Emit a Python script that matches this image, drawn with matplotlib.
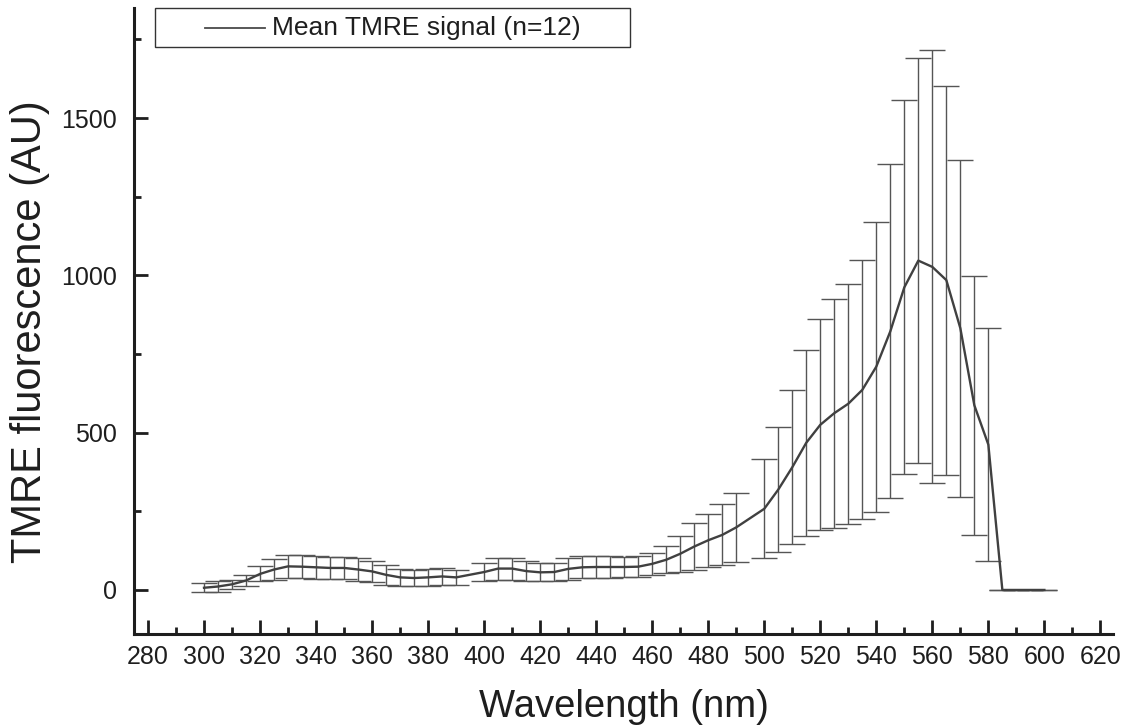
import matplotlib
matplotlib.use("Agg")
import matplotlib.pyplot as plt
from matplotlib.patches import Rectangle
from matplotlib.lines import Line2D
from matplotlib.ticker import MultipleLocator

plt.rcParams['font.family'] = ['Liberation Sans', 'DejaVu Sans']

# Excitation wavelengths (nm)
wavelength = [300, 305, 310, 315, 320, 325, 330, 335, 340, 345, 350, 355, 360,
              365, 370, 375, 380, 385, 390,
              400, 405, 410, 415, 420, 425, 430, 435, 440, 445, 450, 455, 460,
              465, 470, 475, 480, 485, 490,
              500, 505, 510, 515, 520, 525, 530, 535, 540, 545, 550, 555, 560,
              565, 570, 575, 580, 585, 590, 595, 600]

# Mean TMRE fluorescence (AU)
mean_signal = [7, 11, 18, 30, 51, 65, 75, 74, 72, 70, 70, 65, 59,
               48, 40, 38, 40, 43, 40,
               57, 68, 68, 60, 56, 57, 67, 72, 73, 73, 73, 74, 83,
               96, 115, 138, 158, 175, 199,
               258, 319, 390, 468, 525, 562, 592, 636, 710, 822, 962, 1047, 1027,
               985, 832, 587, 462, 0, 0, 0, 0]

# Standard deviation (AU)
sd_signal = [14, 17, 15, 16, 24, 32, 36, 36, 37, 36, 36, 36, 34,
             31, 27, 26, 27, 26, 25,
             29, 35, 35, 31, 29, 29, 35, 35, 34, 34, 33, 33, 36,
             43, 57, 75, 85, 97, 110,
             157, 198, 245, 295, 335, 364, 381, 412, 461, 531, 594, 643, 688,
             618, 535, 411, 370, 0, 0, 0, 0]

legend_label = "Mean TMRE signal (n=12)"

W, H = 1128, 728
fig = plt.figure(figsize=(W / 100, H / 100), dpi=100)
fig.patch.set_facecolor('white')

# axes box in pixel terms: left 134, right 1113, top 8, bottom 634
ax = fig.add_axes([134 / W, (H - 634) / H, (1113 - 134) / W, (634 - 8) / H])

ax.errorbar(wavelength, mean_signal, yerr=sd_signal, color='#404040',
            linewidth=1.7, ecolor='#555555', elinewidth=1.0,
            capsize=9.4, capthick=1.0, zorder=3)

ax.set_xlim(275, 624.5)
ax.set_ylim(-140, 1850)

ax.xaxis.set_major_locator(MultipleLocator(20))
ax.xaxis.set_minor_locator(MultipleLocator(10))
ax.yaxis.set_major_locator(MultipleLocator(500))
ax.yaxis.set_minor_locator(MultipleLocator(250))

for side in ('top', 'right'):
    ax.spines[side].set_visible(False)
for side in ('left', 'bottom'):
    ax.spines[side].set_linewidth(2.2)
    ax.spines[side].set_color('#1e1e1e')

ax.tick_params(axis='both', which='major', direction='in', length=10,
               width=2.0, color='#1e1e1e', labelsize=18, labelcolor='#1e1e1e')
ax.tick_params(axis='both', which='minor', direction='in', length=5,
               width=2.0, color='#1e1e1e')
ax.tick_params(axis='x', which='major', pad=8)
ax.tick_params(axis='y', which='major', pad=12)

ax.set_xlabel("Wavelength (nm)", fontsize=27.5, color='#1e1e1e', labelpad=14)
ax.set_ylabel("TMRE fluorescence (AU)", fontsize=30, color='#1e1e1e')
ax.yaxis.set_label_coords(-0.086, 0.483)

# legend: framed box with a line sample and the series label
box_l, box_r, box_t, box_b = 155, 630, 8, 47
fig.patches.append(Rectangle((box_l / W, 1 - box_b / H), (box_r - box_l) / W,
                             (box_b - box_t) / H, transform=fig.transFigure,
                             facecolor='white', edgecolor='#333333',
                             linewidth=1.0, zorder=5))
ymid = 1 - (box_t + box_b) / 2 / H
fig.lines.append(Line2D([205 / W, 265 / W], [ymid, ymid], transform=fig.transFigure,
                        color='#4a4a4a', linewidth=1.3, zorder=6))
fig.text(272 / W, ymid, legend_label, fontsize=19, color='#1e1e1e',
         va='center', ha='left', zorder=6)

fig.savefig("out.png", dpi=100, facecolor='white')
